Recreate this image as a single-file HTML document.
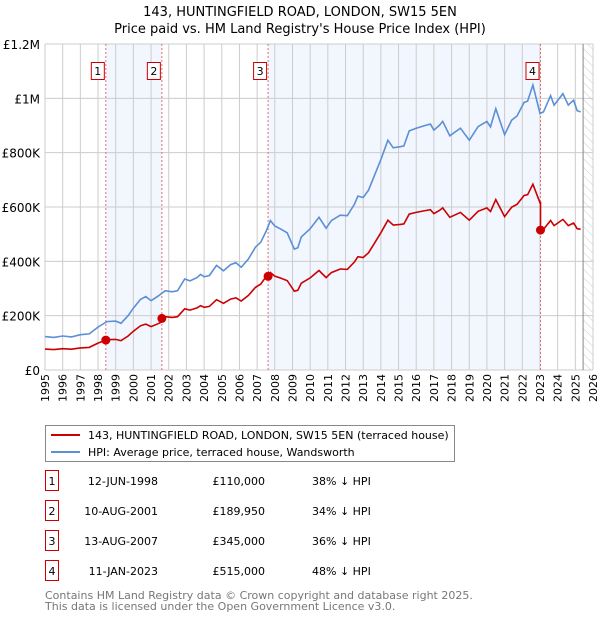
<!DOCTYPE html>
<html><head><meta charset="utf-8">
<style>
body{margin:0;background:#fff;font-family:"Liberation Sans","DejaVu Sans",sans-serif;}
svg text{font-family:"DejaVu Sans","Liberation Sans",sans-serif;}
</style></head>
<body>
<svg id="chart" width="600" height="620" viewBox="0 0 600 620" xmlns="http://www.w3.org/2000/svg">
<defs>
<pattern id="hatch" width="6" height="6" patternUnits="userSpaceOnUse" patternTransform="rotate(-45)">
<line x1="0" y1="0" x2="0" y2="6" stroke="#ccc" stroke-width="1"/>
</pattern>
</defs>
<text x="300" y="16" text-anchor="middle" font-size="13">143, HUNTINGFIELD ROAD, LONDON, SW15 5EN</text>
<text x="300" y="33" text-anchor="middle" font-size="13">Price paid vs. HM Land Registry's House Price Index (HPI)</text>
<g id="plot"></g>
<g>
<rect x="45.5" y="425.5" width="409" height="36" fill="#fff" stroke="#888"/>
<line x1="51" y1="435" x2="80" y2="435" stroke="#cc0000" stroke-width="2"/>
<text x="88" y="439" font-size="11">143, HUNTINGFIELD ROAD, LONDON, SW15 5EN (terraced house)</text>
<line x1="51" y1="452" x2="80" y2="452" stroke="#5b8fd6" stroke-width="2"/>
<text x="88" y="456" font-size="11">HPI: Average price, terraced house, Wandsworth</text>
</g>
<g id="table"></g>
<text x="45" y="599" font-size="11" fill="#777">Contains HM Land Registry data © Crown copyright and database right 2025.</text>
<text x="45" y="610" font-size="11" fill="#777">This data is licensed under the Open Government Licence v3.0.</text>
</svg>
<script>
const hpiYears=[1995.0,1995.5,1996.0,1996.5,1997.0,1997.5,1998.0,1998.5,1999.0,1999.3,1999.7,2000.0,2000.4,2000.7,2001.0,2001.4,2001.8,2002.2,2002.5,2002.9,2003.2,2003.6,2003.8,2004.0,2004.3,2004.7,2005.1,2005.5,2005.8,2006.1,2006.5,2006.9,2007.2,2007.5,2007.75,2008.0,2008.3,2008.7,2009.1,2009.3,2009.5,2010.0,2010.5,2010.9,2011.2,2011.7,2012.1,2012.5,2012.7,2013.0,2013.3,2013.6,2014.0,2014.4,2014.7,2015.1,2015.3,2015.6,2016.0,2016.5,2016.8,2017.0,2017.3,2017.5,2017.9,2018.5,2019.0,2019.5,2020.0,2020.2,2020.5,2021.0,2021.4,2021.7,2022.1,2022.3,2022.6,2023.0,2023.2,2023.6,2023.8,2024.3,2024.6,2024.9,2025.1,2025.3];
const hpiValues=[123,120,125,122,130,133,158,178,180,172,200,228,260,270,255,272,292,288,292,335,328,340,352,343,348,385,365,388,395,378,408,452,470,510,550,530,520,505,445,450,490,520,562,522,550,570,568,610,640,635,662,710,775,846,818,822,825,880,890,900,905,883,900,915,862,890,846,896,915,895,962,866,920,935,985,990,1049,944,950,1010,975,1017,975,993,955,950];
const saleLabels=["1","2","3","4"];
const saleYears=[1998.44,2001.61,2007.62,2023.03];
const salePrices=[110,189.95,345,515];
const saleDates=["12-JUN-1998","10-AUG-2001","13-AUG-2007","11-JAN-2023"];
const salePriceText=["£110,000","£189,950","£345,000","£515,000"];
const saleDiffText=["38% ↓ HPI","34% ↓ HPI","36% ↓ HPI","48% ↓ HPI"];
const yTicks=[0,200,400,600,800,1000,1200];
const yTickLabels=["£0","£200K","£400K","£600K","£800K","£1M","£1.2M"];
const xStart=1995,xEnd=2026,dataEnd=2025.44;

const NS="http://www.w3.org/2000/svg";
const L=45,R=593,T=44,B=370;
const xs=y=>L+(y-xStart)/(xEnd-xStart)*(R-L);
const ys=v=>B-v/1200*(B-T);
const plot=document.getElementById('plot');
function mk(tag,attrs,parent){const e=document.createElementNS(NS,tag);for(const k in attrs)e.setAttribute(k,attrs[k]);(parent||plot).appendChild(e);return e;}
function hpiAt(t){for(let i=0;i<hpiYears.length-1;i++){if(t>=hpiYears[i]&&t<=hpiYears[i+1]){const f=(t-hpiYears[i])/(hpiYears[i+1]-hpiYears[i]);return hpiValues[i]+f*(hpiValues[i+1]-hpiValues[i]);}}return hpiValues[hpiValues.length-1];}

for(let i=0;i<saleYears.length;i+=2){
  const x1=xs(saleYears[i]),x2=i+1<saleYears.length?xs(saleYears[i+1]):xs(dataEnd);
  const r=mk('rect',{x:x1,y:T,width:x2-x1,height:B-T,fill:'#eef3fd',opacity:0.75});
  
  
}
const h=mk('rect',{x:xs(dataEnd),y:T,width:R-xs(dataEnd),height:B-T,fill:'url(#hatch)'});


for(let yr=xStart;yr<=xEnd;yr++){
  const g=mk('line',{x1:xs(yr),x2:xs(yr),y1:T,y2:B,stroke:'#cccccc','stroke-width':1});
  
  
  const tx=mk('text',{x:0,y:0,'font-size':11,'text-anchor':'end',transform:`translate(${xs(yr)+4},374) rotate(-90)`});
  tx.textContent=yr;
  
  
}
yTicks.forEach((v,i)=>{
  const g=mk('line',{x1:L,x2:R,y1:ys(v),y2:ys(v),stroke:'#cccccc','stroke-width':1});
  
  
  const tx=mk('text',{x:40,y:ys(v)+5,'font-size':12,'text-anchor':'end'});
  tx.textContent=yTickLabels[i];
  
  
});
const dl=mk('line',{x1:xs(dataEnd),x2:xs(dataEnd),y1:T,y2:B,stroke:'#888','stroke-width':1});


saleYears.forEach(s=>{
  const l=mk('line',{x1:xs(s),x2:xs(s),y1:T,y2:B,stroke:'#e87070','stroke-width':1,'stroke-dasharray':'2,2'});
  
  
});
let d='';hpiYears.forEach((t,i)=>{d+=(i?'L':'M')+xs(t).toFixed(1)+','+ys(hpiValues[i]).toFixed(1);});
const hp=mk('path',{d:d,fill:'none',stroke:'#5b8fd6','stroke-width':1.6});


const pts=[];
function ratioAt(t){let r=salePrices[0]/hpiAt(saleYears[0]);for(let i=0;i<saleYears.length;i++){if(t>=saleYears[i])r=salePrices[i]/hpiAt(saleYears[i]);}return r;}
hpiYears.forEach(t=>pts.push([t,hpiAt(t)*ratioAt(t)]));
saleYears.forEach((s,i)=>{const prev=i?salePrices[i-1]/hpiAt(saleYears[i-1]):salePrices[0]/hpiAt(saleYears[0]);pts.push([s-1e-6,hpiAt(s)*prev]);pts.push([s,salePrices[i]]);});
pts.sort((a,b)=>a[0]-b[0]);
let d2='';pts.forEach((p,i)=>{d2+=(i?'L':'M')+xs(p[0]).toFixed(1)+','+ys(p[1]).toFixed(1);});
const pp=mk('path',{d:d2,fill:'none',stroke:'#cc0000','stroke-width':1.6});


saleYears.forEach((s,i)=>{
  const c=mk('circle',{cx:xs(s),cy:ys(salePrices[i]),r:4.5,fill:'#cc0000'});
  
  
  const b=mk('rect',{x:xs(s)-14.5,y:62.5,width:13,height:17,fill:'#fff',stroke:'#cc0000'});
  
  
  const tx=mk('text',{x:xs(s)-8,y:75,'font-size':11,'text-anchor':'middle'});
  tx.textContent=saleLabels[i];
  
  
});
const tb=document.getElementById('table');
const rowY=[483,513,543,573];
saleLabels.forEach((lab,i)=>{
  const y=rowY[i];
  const b=mk('rect',{x:45.5,y:y-12.5,width:13,height:20,fill:'#fff',stroke:'#cc0000'},tb);
  
  
  const cells=[[52,lab,'middle'],[158,saleDates[i],'end'],[265,salePriceText[i],'end'],[312,saleDiffText[i],'start']];
  cells.forEach((c,j)=>{
    const t=mk('text',{x:c[0],y:y+2,'font-size':11,'text-anchor':c[2]},tb);
    t.textContent=c[1];
    
    
  });
});
</script>
</body></html>
